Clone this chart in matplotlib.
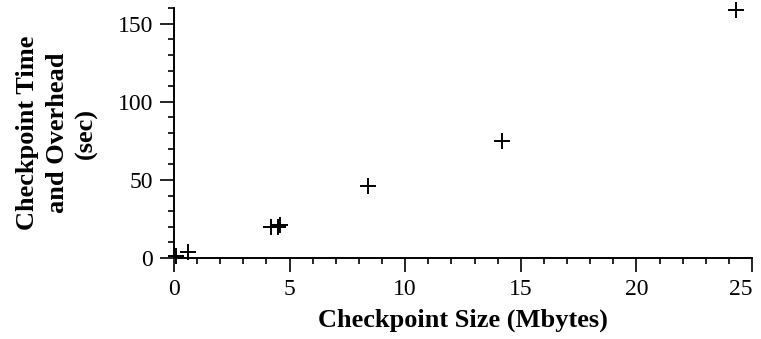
import matplotlib
matplotlib.use("Agg")
import matplotlib.pyplot as plt
from matplotlib.ticker import MultipleLocator

# checkpoint size (MB) vs checkpoint time + overhead (sec)
size_mb = [0.1, 0.6, 4.2, 4.5, 4.6, 8.4, 14.2, 24.3]
time_sec = [1, 4, 20, 20, 21, 46, 75, 159]
x_ticks = [0, 5, 10, 15, 20, 25]
y_ticks = [0, 50, 100, 150]

plt.rcParams["font.family"] = ["Liberation Serif", "DejaVu Serif"]

fig = plt.figure(figsize=(7.61, 3.39), dpi=100)
ax = fig.add_axes([0.2286, 0.2389, 0.7596, 0.7375])

ax.plot(size_mb, time_sec, linestyle="none", marker="+", color="black",
        markersize=11, markeredgewidth=1.4, clip_on=False)

ax.set_xlim(0, 25)
ax.set_ylim(0, 160)
ax.set_xticks(x_ticks)
ax.set_yticks(y_ticks)
ax.xaxis.set_minor_locator(MultipleLocator(1))
ax.yaxis.set_minor_locator(MultipleLocator(10))
ax.tick_params(which="major", direction="out", length=10, width=1.2,
               labelsize=17, pad=5)
ax.tick_params(which="minor", direction="out", length=4, width=1.2)
for s in ("top", "right"):
    ax.spines[s].set_visible(False)
for s in ("left", "bottom"):
    ax.spines[s].set_linewidth(1.4)

# last x label sits against the right edge
ax.get_xticklabels()[-1].set_horizontalalignment("right")

ax.set_xlabel("Checkpoint Size (Mbytes)", fontsize=19, fontweight="bold",
              labelpad=6)
ax.set_ylabel("Checkpoint Time\nand Overhead\n(sec)", fontsize=19,
              fontweight="bold", labelpad=14, linespacing=1.35)

fig.savefig("out.png", dpi=100)
